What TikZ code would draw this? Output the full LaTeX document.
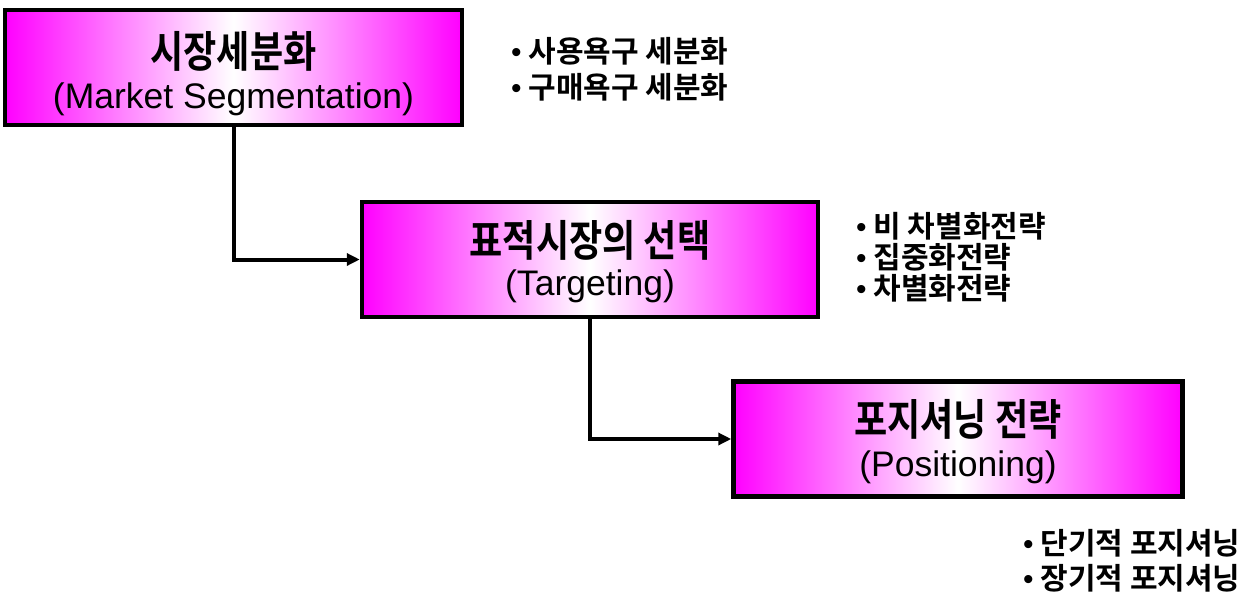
\documentclass[tikz,border=0pt]{standalone}
\usepackage{fontspec}
\setmainfont{Liberation Sans}
\newfontfamily\krtitle[UprightFont=* Bold, FakeStretch=0.84]{Noto Sans CJK KR}
\newfontfamily\krtext[UprightFont=* Bold]{Noto Sans CJK KR}
\usetikzlibrary{arrows.meta,calc}

\begin{document}
\begin{tikzpicture}[x=1pt,y=-1pt,
  stagebox/.style={draw=black, line width=4.5pt, left color=magenta,
    right color=magenta, middle color=white, minimum width=#1,
    minimum height=115pt, inner sep=0pt},
  krhead/.style={inner sep=0pt, font=\krtitle\fontsize{43}{46}\selectfont},
  enhead/.style={inner sep=0pt, font=\fontsize{35.5}{40}\selectfont},
  bullets/.style={inner sep=0pt, anchor=west, align=left,
    font=\krtext\fontsize{30}{36}\selectfont},
  conn/.style={draw=black, line width=4pt,
    -{Triangle[length=13pt,width=12pt]}}]

  % page frame
  \useasboundingbox[fill=white] (0,0) rectangle (1255,594);

  % the three stages
  \node[stagebox=457pt] (seg) at (233.5,67.5) {};
  \node[stagebox=456pt] (tgt) at (590,259.5) {};
  \node[stagebox=449pt] (pos) at (958,439) {};

  % stage titles
  \node[krhead] (segk) at ($(seg.center)+(0,-16)$) {시장세분화};
  \node[enhead] (sege) at ($(seg.center)+(0,32)$) {(Market Segmentation)};
  \node[krhead] (tgtk) at ($(tgt.center)+(0,-19)$) {표적시장의 선택};
  \node[enhead] (tgte) at ($(tgt.center)+(0,27)$) {(Targeting)};
  \node[krhead] (posk) at ($(pos.center)+(0,-20)$) {포지셔닝 전략};
  \node[enhead] (pose) at ($(pos.center)+(0,28)$) {(Positioning)};

  % details for each stage
  \node[bullets] (segl) at (511,69) {{\rmfamily\textbullet} 사용욕구 세분화\\[0pt]{\rmfamily\textbullet} 구매욕구 세분화};
  \node[bullets] (tgtl) at (856,257) {{\rmfamily\textbullet} 비 차별화전략\\[-5pt]{\rmfamily\textbullet} 집중화전략\\[-5pt]{\rmfamily\textbullet} 차별화전략};
  \node[bullets] (posl) at (1023,561) {{\rmfamily\textbullet} 단기적 포지셔닝\\[-1pt]{\rmfamily\textbullet} 장기적 포지셔닝};

  % flow between stages
  \draw[conn] (seg.south) |- (tgt.west);
  \draw[conn] (tgt.south) |- (pos.west);
\end{tikzpicture}
\end{document}
